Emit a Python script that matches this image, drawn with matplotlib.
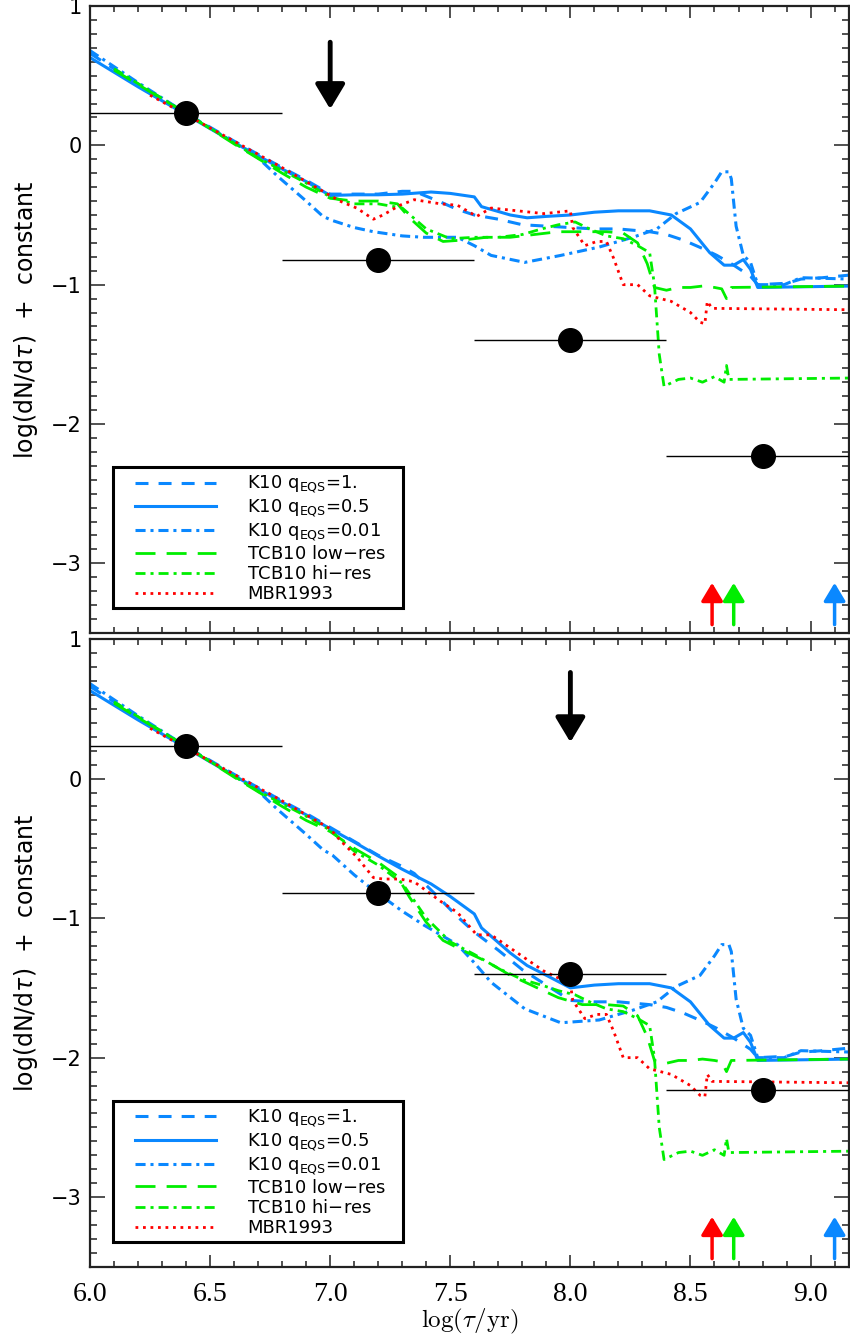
import matplotlib
matplotlib.use('Agg')
import matplotlib.pyplot as plt
from matplotlib.ticker import MultipleLocator
from matplotlib.patches import Rectangle

plt.rcParams['mathtext.fontset'] = 'dejavusans'

BLUE = '#0A88FF'
GREEN = '#00EE00'
RED = '#FF0000'

# ---- curves, top and bottom panel ----
k10_q1_x = [6.0, 6.2, 6.4, 6.6, 6.8, 6.9, 7.0, 7.1, 7.2, 7.3, 7.35, 7.45, 7.53, 7.6, 7.7, 7.8, 7.9, 8.0,
            8.1, 8.2, 8.33, 8.4, 8.47, 8.55, 8.61, 8.68, 8.75, 8.78, 8.9, 8.96, 9.05, 9.17]
k10_q1_top = [0.66, 0.44, 0.23, 0.03, -0.16, -0.25, -0.35, -0.35, -0.35, -0.33, -0.33, -0.40, -0.46, -0.50,
              -0.53, -0.57, -0.58, -0.59, -0.60, -0.60, -0.62, -0.64, -0.68, -0.74, -0.79, -0.86, -0.94,
              -1.0, -0.99, -0.96, -0.95, -0.93]
k10_q1_bot = [0.66, 0.44, 0.23, 0.03, -0.16, -0.25, -0.35, -0.45, -0.55, -0.63, -0.68, -0.85, -0.99, -1.10,
              -1.23, -1.37, -1.48, -1.59, -1.60, -1.60, -1.62, -1.64, -1.68, -1.74, -1.79, -1.86, -1.94,
              -2.0, -1.99, -1.96, -1.95, -1.93]

k10_q05_x = [6.0, 6.2, 6.4, 6.6, 6.8, 6.9, 7.0, 7.1, 7.2, 7.3, 7.42, 7.5, 7.6, 7.63, 7.67, 7.75, 7.82, 7.9,
             8.0, 8.1, 8.2, 8.33, 8.42, 8.5, 8.58, 8.64, 8.68, 8.72, 8.75, 8.78, 9.17]
k10_q05_top = [0.63, 0.42, 0.22, 0.02, -0.17, -0.26, -0.36, -0.355, -0.355, -0.35, -0.335, -0.345, -0.37,
               -0.44, -0.46, -0.50, -0.52, -0.51, -0.50, -0.48, -0.47, -0.47, -0.50, -0.60, -0.77, -0.86,
               -0.86, -0.82, -0.89, -1.02, -1.01]
k10_q05_bot = [0.63, 0.42, 0.22, 0.02, -0.17, -0.26, -0.36, -0.455, -0.555, -0.65, -0.755, -0.845, -0.97,
               -1.07, -1.13, -1.25, -1.34, -1.41, -1.50, -1.48, -1.47, -1.47, -1.50, -1.60, -1.77, -1.86,
               -1.86, -1.82, -1.89, -2.02, -2.01]

k10_q001_x = [6.0, 6.2, 6.4, 6.6, 6.7, 6.78, 6.9, 6.97, 7.01, 7.1, 7.18, 7.3, 7.39, 7.53, 7.6, 7.67, 7.81,
              7.96, 8.12, 8.26, 8.36, 8.44, 8.54, 8.6, 8.63, 8.66, 8.67, 8.69, 8.72, 8.75, 8.78, 8.89,
              8.96, 9.17]
k10_q001_top = [0.68, 0.45, 0.23, 0.02, -0.09, -0.22, -0.40, -0.51, -0.54, -0.59, -0.62, -0.65, -0.66,
                -0.66, -0.72, -0.79, -0.84, -0.79, -0.73, -0.66, -0.60, -0.49, -0.41, -0.27, -0.19, -0.19,
                -0.24, -0.58, -0.79, -0.84, -1.0, -1.0, -0.95, -0.96]
k10_q001_bot = [0.68, 0.45, 0.23, 0.02, -0.09, -0.22, -0.40, -0.51, -0.55, -0.69, -0.80, -0.95, -1.05,
                -1.19, -1.32, -1.46, -1.65, -1.75, -1.73, -1.66, -1.60, -1.49, -1.41, -1.27, -1.19, -1.19,
                -1.24, -1.58, -1.79, -1.84, -2.0, -2.0, -1.95, -1.96]

tcb_low_x = [6.1, 6.4, 6.6, 6.8, 6.9, 7.0, 7.1, 7.2, 7.28, 7.33, 7.4, 7.47, 7.55, 7.65, 7.75, 7.85, 7.95,
             8.05, 8.15, 8.22, 8.28, 8.32, 8.35, 8.4, 8.45, 8.5, 8.55, 8.6, 8.63, 8.65, 8.67, 9.17]
tcb_low_top = [0.54, 0.23, 0.01, -0.20, -0.30, -0.38, -0.40, -0.40, -0.42, -0.52, -0.63, -0.69, -0.68,
               -0.66, -0.66, -0.64, -0.62, -0.62, -0.62, -0.63, -0.70, -0.85, -1.02, -1.04, -1.02, -1.02,
               -1.01, -1.02, -1.03, -1.10, -1.02, -1.01]
tcb_low_bot = [0.54, 0.23, 0.01, -0.20, -0.30, -0.38, -0.50, -0.60, -0.70, -0.85, -1.03, -1.16, -1.23,
               -1.31, -1.41, -1.49, -1.57, -1.62, -1.62, -1.63, -1.70, -1.85, -2.02, -2.04, -2.02, -2.02,
               -2.01, -2.02, -2.03, -2.10, -2.02, -2.01]

tcb_hi_x = [6.1, 6.4, 6.7, 6.9, 7.0, 7.1, 7.2, 7.3, 7.4, 7.5, 7.6, 7.7, 7.8, 7.88, 7.95, 8.02, 8.08, 8.15,
            8.22, 8.28, 8.33, 8.35, 8.37, 8.39, 8.45, 8.5, 8.55, 8.6, 8.64, 8.65, 8.66, 9.17]
tcb_hi_top = [0.55, 0.23, -0.09, -0.27, -0.37, -0.42, -0.42, -0.45, -0.60, -0.67, -0.66, -0.66, -0.64,
              -0.60, -0.57, -0.55, -0.60, -0.65, -0.67, -0.72, -0.77, -1.0, -1.5, -1.73, -1.68, -1.67,
              -1.70, -1.66, -1.70, -1.58, -1.68, -1.67]
tcb_hi_bot = [0.55, 0.23, -0.09, -0.27, -0.37, -0.52, -0.62, -0.75, -1.00, -1.17, -1.26, -1.36, -1.44,
              -1.48, -1.52, -1.55, -1.60, -1.65, -1.67, -1.72, -1.77, -2.0, -2.5, -2.73, -2.68, -2.67,
              -2.70, -2.66, -2.70, -2.58, -2.68, -2.67]

mbr_x = [6.25, 6.4, 6.6, 6.8, 6.95, 7.0, 7.04, 7.11, 7.18, 7.22, 7.29, 7.35, 7.46, 7.53, 7.61, 7.67, 7.78,
         7.89, 8.0, 8.01, 8.06, 8.11, 8.15, 8.18, 8.22, 8.28, 8.33, 8.42, 8.5, 8.54, 8.56, 8.57, 8.59, 9.17]
mbr_top = [0.36, 0.22, 0.03, -0.16, -0.31, -0.36, -0.40, -0.45, -0.53, -0.50, -0.43, -0.39, -0.42, -0.43,
           -0.51, -0.45, -0.47, -0.49, -0.47, -0.59, -0.72, -0.69, -0.69, -0.81, -1.0, -1.0, -1.08, -1.12,
           -1.20, -1.27, -1.28, -1.12, -1.17, -1.18]
mbr_bot = [0.36, 0.22, 0.03, -0.16, -0.31, -0.36, -0.44, -0.56, -0.71, -0.72, -0.72, -0.74, -0.88, -0.96,
           -1.12, -1.12, -1.25, -1.38, -1.47, -1.59, -1.72, -1.69, -1.69, -1.81, -2.0, -2.0, -2.08, -2.12,
           -2.20, -2.27, -2.28, -2.12, -2.17, -2.18]

# observed points with horizontal bins
obs_x = [6.4, 7.2, 8.0, 8.8]
obs_y = [0.23, -0.82, -1.40, -2.23]
obs_xerr = [0.4, 0.4, 0.4, 0.4]

# big black arrow (x, tail y, tip y) for each panel
big_arrow_top = (7.0, 0.74, 0.26)
big_arrow_bot = (8.0, 0.76, 0.26)

# coloured arrows at the bottom of each panel
small_arrow_x = [8.59, 8.68, 9.1]
small_arrow_c = [RED, GREEN, BLUE]
small_arrow_y = (-3.44, -3.14)

xtick_vals = [6.0, 6.5, 7.0, 7.5, 8.0, 8.5, 9.0]
xtick_text = ['6.0', '6.5', '7.0', '7.5', '8.0', '8.5', '9.0']

labels = [r'K10 q$_{\rm EQS}$=1.', r'K10 q$_{\rm EQS}$=0.5', r'K10 q$_{\rm EQS}$=0.01',
          'TCB10 low$-$res', 'TCB10 hi$-$res', 'MBR1993']

styles = [dict(color=BLUE, lw=2.2, ls=(0, (4.25, 3.3))),
          dict(color=BLUE, lw=2.2, ls='-'),
          dict(color=BLUE, lw=2.2, ls=(0, (3.3, 1.6, 1.0, 1.6))),
          dict(color=GREEN, lw=2.0, ls=(0, (7.2, 4.0))),
          dict(color=GREEN, lw=2.0, ls=(0, (3.6, 1.8, 1.1, 1.8))),
          dict(color=RED, lw=2.0, ls=(0, (1.0, 1.7)))]


def draw_panel(ax, ys, arrow, show_x):
    xs = [k10_q1_x, k10_q05_x, k10_q001_x, tcb_low_x, tcb_hi_x, mbr_x]
    for x, y, lab, st in zip(xs, ys, labels, styles):
        ax.plot(x, y, label=lab, **st)

    ax.errorbar(obs_x, obs_y, xerr=obs_xerr, fmt='o', color='black', ms=17,
                elinewidth=1.0, capsize=0, zorder=10)

    ax.annotate('', xy=(arrow[0], arrow[2]), xytext=(arrow[0], arrow[1]),
                arrowprops=dict(arrowstyle='-|>,head_length=0.5,head_width=0.3', lw=3.5,
                                color='black', mutation_scale=30, shrinkA=0, shrinkB=0))
    for xa, ca in zip(small_arrow_x, small_arrow_c):
        ax.annotate('', xy=(xa, small_arrow_y[1]), xytext=(xa, small_arrow_y[0]),
                    arrowprops=dict(arrowstyle='-|>,head_length=0.5,head_width=0.3', lw=2.5,
                                    color=ca, mutation_scale=22, shrinkA=0, shrinkB=0))

    ax.set_xlim(6.0, 9.16)
    ax.set_ylim(-3.5, 1.0)
    ax.set_xticks(xtick_vals)
    ax.xaxis.set_minor_locator(MultipleLocator(0.1))
    ax.yaxis.set_major_locator(MultipleLocator(1))
    ax.yaxis.set_minor_locator(MultipleLocator(0.1))
    ax.tick_params(which='both', direction='in', top=True, right=True, width=1.2, color='#333333')
    ax.tick_params(axis='x', which='major', length=8.6, pad=11)
    ax.tick_params(axis='x', which='minor', length=4.3)
    ax.tick_params(axis='y', which='major', length=11, pad=6, labelsize=15)
    ax.tick_params(axis='y', which='minor', length=5)
    for sp in ax.spines.values():
        sp.set_linewidth(1.6)
        sp.set_color('#222222')
    if show_x:
        ax.set_xticklabels(xtick_text, fontfamily='Liberation Serif', fontsize=20)
        ax.set_xlabel(r'$\log(\tau/{\rm yr})$', fontsize=18, labelpad=0, math_fontfamily='cm')
    else:
        ax.tick_params(axis='x', labelbottom=False)
    ax.set_ylabel(r'log(dN/d$\tau$)  +  constant', fontsize=17, labelpad=8)

    # legend without its own frame, box drawn separately so the padding matches
    leg = ax.legend(loc='upper left', bbox_to_anchor=(0.0593, 0.254), borderaxespad=0,
                    fontsize=13, handlelength=4.5, handletextpad=1.7, labelspacing=0.12,
                    borderpad=0, frameon=False)
    leg.set_zorder(12)
    ax.add_patch(Rectangle((0.0303, 0.040), 0.382, 0.225, transform=ax.transAxes,
                           facecolor='white', edgecolor='black', lw=2.2, zorder=11))


fig = plt.figure(figsize=(8.5, 13.4), dpi=100)
ax1 = fig.add_axes([0.10588, 0.52761, 0.89294, 0.46791])
ax2 = fig.add_axes([0.10588, 0.05448, 0.89294, 0.46866])

draw_panel(ax1, [k10_q1_top, k10_q05_top, k10_q001_top, tcb_low_top, tcb_hi_top, mbr_top],
           big_arrow_top, False)
draw_panel(ax2, [k10_q1_bot, k10_q05_bot, k10_q001_bot, tcb_low_bot, tcb_hi_bot, mbr_bot],
           big_arrow_bot, True)

fig.savefig('out.png', dpi=100)
